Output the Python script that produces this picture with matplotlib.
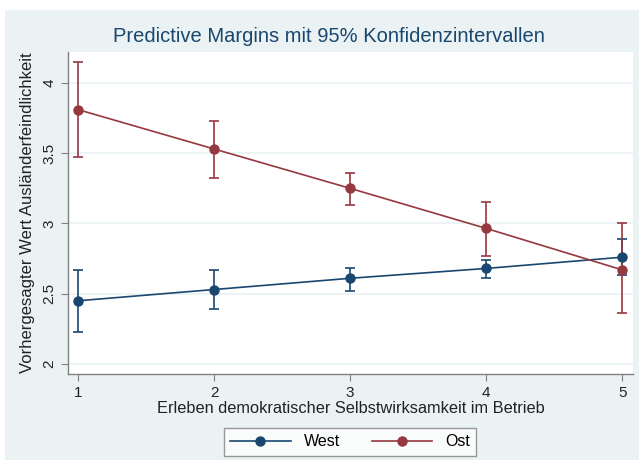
import matplotlib.pyplot as plt
from matplotlib.patches import Rectangle

plt.rcParams['font.family'] = ['Liberation Sans', 'DejaVu Sans']

# Daten
x_werte = [1, 2, 3, 4, 5]
west_mittel = [2.45, 2.53, 2.61, 2.68, 2.76]
west_unten = [2.23, 2.39, 2.52, 2.61, 2.63]
west_oben = [2.67, 2.67, 2.68, 2.74, 2.89]
ost_mittel = [3.81, 3.53, 3.25, 2.965, 2.67]
ost_unten = [3.47, 3.32, 3.13, 2.77, 2.36]
ost_oben = [4.15, 3.73, 3.36, 3.15, 3.00]
y_ticks = [2, 2.5, 3, 3.5, 4]
y_labels = ['2', '2.5', '3', '3.5', '4']

navy = '#1a476f'
maroon = '#963840'
hintergrund = '#eaf2f3'

fig = plt.figure(figsize=(6.39, 4.71), dpi=100)
fig.patches.append(Rectangle((5 / 639, 11 / 471), 634 / 639, 450 / 471,
                             transform=fig.transFigure, facecolor=hintergrund,
                             edgecolor='none', zorder=-5))
ax = fig.add_axes([68 / 639, 97 / 471, 565 / 639, 322 / 471])
ax.set_facecolor('white')

for mittel, unten, oben, farbe, name in [
        (west_mittel, west_unten, west_oben, navy, 'West'),
        (ost_mittel, ost_unten, ost_oben, maroon, 'Ost')]:
    fehler = [[m - u for m, u in zip(mittel, unten)],
              [o - m for m, o in zip(mittel, oben)]]
    ax.errorbar(x_werte, mittel, yerr=fehler, fmt='none', ecolor=farbe,
                elinewidth=1.2, capsize=3.5, capthick=1.2, zorder=3)
    ax.plot(x_werte, mittel, color=farbe, lw=1.2, marker='o', markersize=6.5,
            label=name, zorder=4)

ax.set_xlim(0.926, 5.08)
ax.set_ylim(1.929, 4.22)
ax.set_xticks(x_werte)
ax.set_yticks(y_ticks)
ax.set_yticklabels(y_labels, rotation=90, va='center')
ax.grid(axis='y', color=hintergrund, lw=1.2)
ax.set_axisbelow(True)
for s in ['top', 'right']:
    ax.spines[s].set_visible(False)
for s in ['left', 'bottom']:
    ax.spines[s].set_color('#808080')
    ax.spines[s].set_linewidth(1.0)
ax.tick_params(colors='#808080', labelcolor='#222222', labelsize=11, length=5)

ax.set_xlabel('Erleben demokratischer Selbstwirksamkeit im Betrieb', fontsize=11.8,
              color='#222222', labelpad=1)
ax.set_ylabel('Vorhergesagter Wert Ausländerfeindlichkeit', fontsize=12,
              color='#222222', labelpad=5)
fig.text(0.515, 1 - 37 / 471, 'Predictive Margins mit 95% Konfidenzintervallen',
         ha='center', va='center', fontsize=14.5, color=navy)

leg = fig.legend(loc='center', bbox_to_anchor=(350 / 639, 1 - 442 / 471), ncol=2,
                 frameon=True, fancybox=False, fontsize=11.5, handlelength=3.8,
                 columnspacing=2.0, borderpad=0.4, handletextpad=0.8)
leg.get_frame().set_edgecolor('#808080')
leg.get_frame().set_linewidth(1.0)

fig.savefig('out.png', dpi=100, facecolor='white')
